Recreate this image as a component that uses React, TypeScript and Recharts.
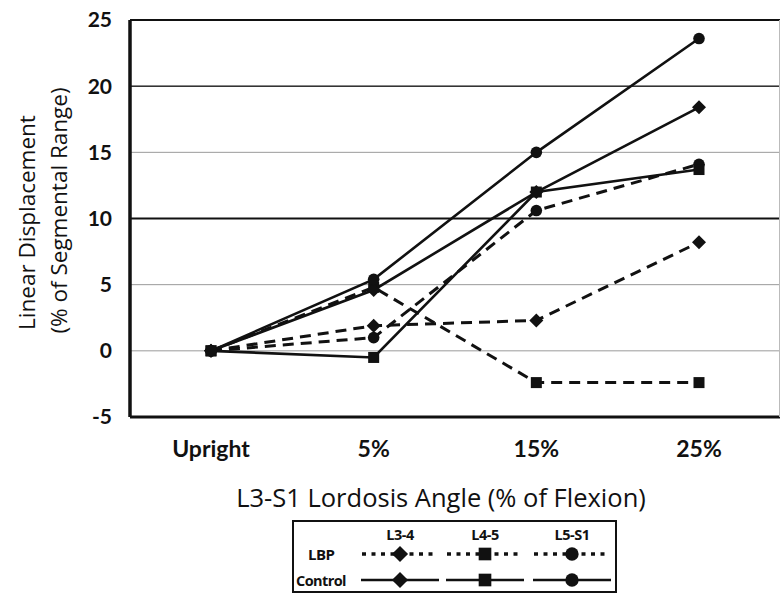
import React from 'react';
import {
  LineChart,
  Line,
  XAxis,
  YAxis,
  CartesianGrid,
  ReferenceLine,
} from 'recharts';

// values
const categories = ['Upright', '5%', '15%', '25%'];
const controlL34 = [0, 4.6, 12, 18.4];
const controlL45 = [0, -0.5, 12, 13.7];
const controlL5S1 = [0, 5.4, 15, 23.6];
const lbpL34 = [0, 1.9, 2.3, 8.2];
const lbpL45 = [0, 4.8, -2.4, -2.4];
const lbpL5S1 = [0, 1.0, 10.6, 14.1];
const yTicks = [-5, 0, 5, 10, 15, 20, 25];
const levels = ['L3-4', 'L4-5', 'L5-S1'];
const groups = ['LBP', 'Control'];

const data = categories.map((name, i) => ({
  name,
  cL34: controlL34[i],
  cL45: controlL45[i],
  cL5S1: controlL5S1[i],
  lL34: lbpL34[i],
  lL45: lbpL45[i],
  lL5S1: lbpL5S1[i],
}));

const TICK_FONT = 'Lato, "Open Sans", sans-serif';
const TITLE_FONT = '"Open Sans", Lato, sans-serif';
const INK = '#111';

type Shape = 'diamond' | 'square' | 'circle';

function MarkerShape({ shape, cx, cy, s = 1 }: { shape: Shape; cx: number; cy: number; s?: number }) {
  if (shape === 'diamond') {
    const r = 7 * s;
    return <polygon points={`${cx},${cy - r} ${cx + r},${cy} ${cx},${cy + r} ${cx - r},${cy}`} fill={INK} />;
  }
  if (shape === 'square') {
    const h = 5.5 * s;
    return <rect x={cx - h} y={cy - h} width={h * 2} height={h * 2} fill={INK} />;
  }
  return <circle cx={cx} cy={cy} r={5.8 * s} fill={INK} />;
}

const dot = (shape: Shape) => (props: any) => {
  const { cx, cy, index } = props;
  if (cx == null || cy == null) return <g key={`d-${shape}-${index}`} />;
  return (
    <g key={`d-${shape}-${index}`}>
      <MarkerShape shape={shape} cx={cx} cy={cy} />
    </g>
  );
};

const series: { key: string; shape: Shape; dashed: boolean }[] = [
  { key: 'lL34', shape: 'diamond', dashed: true },
  { key: 'lL45', shape: 'square', dashed: true },
  { key: 'lL5S1', shape: 'circle', dashed: true },
  { key: 'cL34', shape: 'diamond', dashed: false },
  { key: 'cL45', shape: 'square', dashed: false },
  { key: 'cL5S1', shape: 'circle', dashed: false },
];

function YTitle(props: any) {
  const { viewBox } = props;
  const cy = viewBox.y + viewBox.height / 2;
  return (
    <g fontFamily={TITLE_FONT} fontSize={22.5} fill={INK} textAnchor="middle">
      <text transform={`translate(27, ${cy + 4}) rotate(-90)`} dy="0.35em">Linear Displacement</text>
      <text transform={`translate(59, ${cy - 8}) rotate(-90)`} dy="0.35em">(% of Segmental Range)</text>
    </g>
  );
}

function LegendBox() {
  const colX = [105, 190, 277];
  const shapes: Shape[] = ['diamond', 'square', 'circle'];
  return (
    <div
      style={{
        position: 'absolute',
        left: 292,
        top: 520,
        width: 325,
        height: 73,
        boxSizing: 'border-box',
        border: '2px solid #111',
        borderLeftWidth: 2,
        background: '#fff',
      }}
    >
      <svg width={321} height={69} style={{ display: 'block' }}>
        <g fontFamily={TITLE_FONT} fontWeight={700} fontSize={14.5} fill={INK}>
          {levels.map((lv, i) => (
            <text key={lv} x={colX[i] + 1} y={18} textAnchor="middle" letterSpacing={-0.5}>{lv}</text>
          ))}
          <text x={14} y={38} fontSize={15} letterSpacing={-0.5}>{groups[0]}</text>
          <text x={2} y={64} fontSize={14.5} letterSpacing={-0.6}>{groups[1]}</text>
        </g>
        {colX.map((x, i) => (
          <g key={`lg-${i}`}>
            <line x1={x - 37} x2={x + 39} y1={32} y2={32} stroke={INK} strokeWidth={3.5} strokeDasharray="4 5.5" />
            <MarkerShape shape={shapes[i]} cx={x + 1} cy={32} s={1.15} />
            <line x1={x - 38} x2={x + 40} y1={58} y2={58} stroke={INK} strokeWidth={2.5} />
            <MarkerShape shape={shapes[i]} cx={x + 1} cy={58} s={1.15} />
          </g>
        ))}
      </svg>
    </div>
  );
}

export default function App() {
  return (
    <div style={{ position: 'absolute', left: 0, top: 0, width: 782, height: 596, background: '#fff' }}>
      <LineChart
        width={782}
        height={596}
        data={data}
        margin={{ top: 20, right: 2, bottom: 89, left: 0 }}
      >
        <CartesianGrid horizontal vertical={false} stroke="#9a9a9a" strokeWidth={1} />
        <ReferenceLine y={25} stroke={INK} strokeWidth={2} />
        <ReferenceLine y={20} stroke="#333" strokeWidth={1.5} />
        <ReferenceLine y={10} stroke={INK} strokeWidth={2} />
        <XAxis
          dataKey="name"
          padding={{ left: 81, right: 81 }}
          axisLine={{ stroke: INK, strokeWidth: 3 }}
          tickLine={false}
          tickSize={0}
          tickMargin={24}
          height={90}
          tick={{ fill: INK, fontSize: 23, fontWeight: 700, fontFamily: TICK_FONT }}
          label={{
            value: 'L3-S1 Lordosis Angle (% of Flexion)',
            position: 'insideBottom',
            offset: 0,
            dx: -14,
            fill: INK,
            fontSize: 25.5,
            fontFamily: TITLE_FONT,
          }}
        />
        <YAxis
          domain={[-5, 25]}
          ticks={yTicks}
          width={130}
          interval={0}
          axisLine={{ stroke: INK, strokeWidth: 3.5 }}
          tickLine={false}
          tickSize={0}
          tickMargin={18}
          tick={{ fill: INK, fontSize: 21, fontWeight: 700, fontFamily: TICK_FONT }}
          label={{ content: <YTitle /> }}
        />
        {series.map((s) => (
          <Line
            key={s.key}
            dataKey={s.key}
            type="linear"
            stroke={INK}
            strokeWidth={s.dashed ? 3 : 2.6}
            strokeDasharray={s.dashed ? '11 7' : undefined}
            dot={dot(s.shape)}
            activeDot={false}
            isAnimationActive={false}
          />
        ))}
      </LineChart>
      <div style={{ position: 'absolute', left: 779, top: 20, width: 1, height: 397, background: '#bbb' }} />
      <LegendBox />
    </div>
  );
}
